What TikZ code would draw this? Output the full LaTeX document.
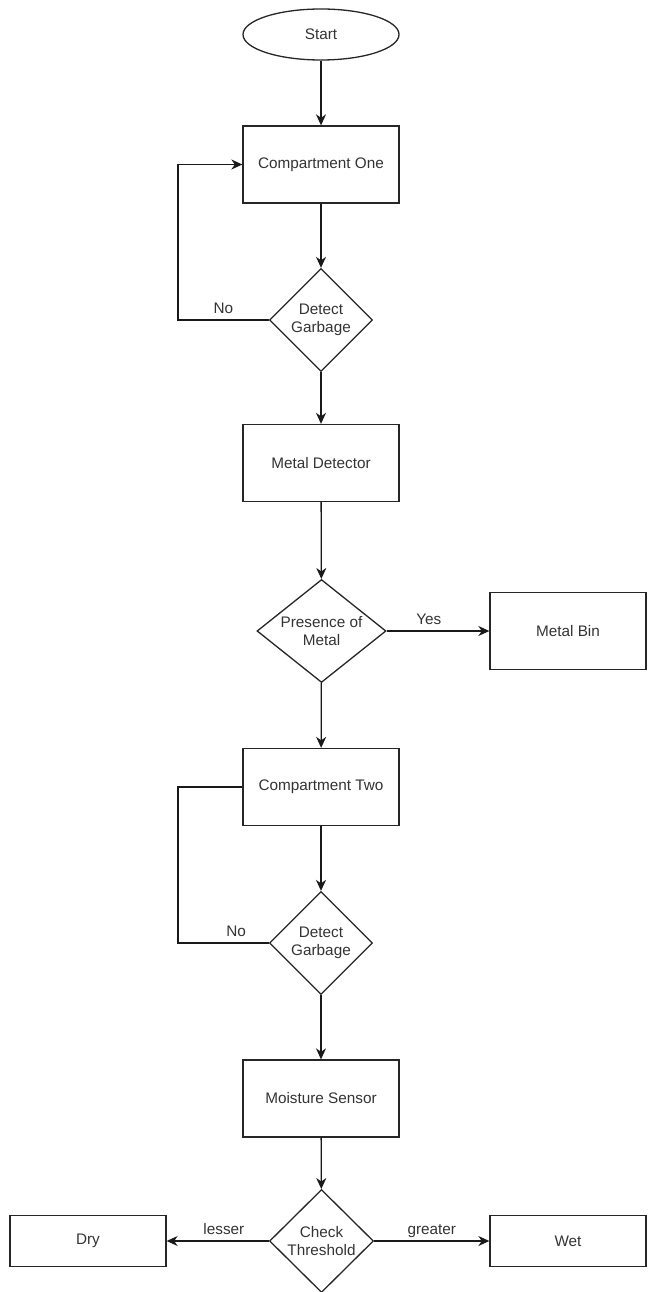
\documentclass[tikz,border=0pt]{standalone}
\usepackage{fontspec}
\setmainfont{Liberation Sans}
\usetikzlibrary{shapes.geometric,arrows.meta}
\begin{document}
\begin{tikzpicture}[x=1pt,y=-1pt,
  every node/.style={font=\fontsize{15.3}{18}\selectfont, text=black!80},
  boxnode/.style={draw=black!85, line width=1.3pt, rectangle, minimum width=156pt, minimum height=77pt, inner sep=0pt},
  startnode/.style={draw=black!85, line width=1.3pt, ellipse, minimum width=156pt, minimum height=51pt, inner sep=0pt},
  decnode/.style={draw=black!85, line width=1.3pt, diamond, minimum height=103pt, inner sep=0pt, align=center},
  conn/.style={line width=1.3pt, draw=black!90},
  arr/.style={conn, -{Stealth[length=11pt,width=10pt,inset=3.5pt]}},
  lbl/.style={anchor=base, yshift=6.5pt, inner sep=0pt}
]
\useasboundingbox (0,0) rectangle (648,1292);

\node[startnode] (start) at (321,34.5) {Start};
\node[boxnode] (c1) at (321,164.5) {Compartment One};
\node[decnode, minimum width=103pt] (d1) at (321,320) {Detect\\Garbage};
\node[boxnode] (md) at (321,463) {Metal Detector};
\node[decnode, minimum width=129pt, aspect=1.6] (d2) at (321.5,631) {Presence of\\Metal};
\node[boxnode] (bin) at (568,631) {Metal Bin};
\node[boxnode] (c2) at (321,787) {Compartment Two};
\node[decnode, minimum width=103pt] (d3) at (321,943) {Detect\\Garbage};
\node[boxnode] (ms) at (321,1098.5) {Moisture Sensor};
\node[decnode, minimum width=104pt, aspect=1.2] (d4) at (321.5,1241) {Check\\Threshold};
\node[boxnode, minimum height=51pt] (dry) at (88,1241) {Dry};
\node[boxnode, minimum height=51pt] (wet) at (568,1241) {Wet};

\coordinate (l1) at (178,320);
\coordinate (l2) at (178,943);

\draw[arr] (start) -- (c1);
\draw[arr] (c1) -- (d1);
\draw[arr] (d1.west) -- node[lbl]{No} (l1) |- (c1.west);
\draw[arr] (d1) -- (md);
\draw[arr] (md) -- (d2);
\draw[arr] (d2.east) -- node[lbl, pos=0.41]{Yes} (bin.west);
\draw[arr] (d2) -- (c2);
\draw[conn] (d3.west) -- node[lbl, pos=0.36]{No} (l2) |- (c2.west);
\draw[arr] (c2) -- (d3);
\draw[arr] (d3) -- (ms);
\draw[arr] (ms) -- (d4);
\draw[arr] (d4.west) -- node[lbl, pos=0.44]{lesser} (dry.east);
\draw[arr] (d4.east) -- node[lbl, pos=0.5]{greater} (wet.west);
\end{tikzpicture}
\end{document}
